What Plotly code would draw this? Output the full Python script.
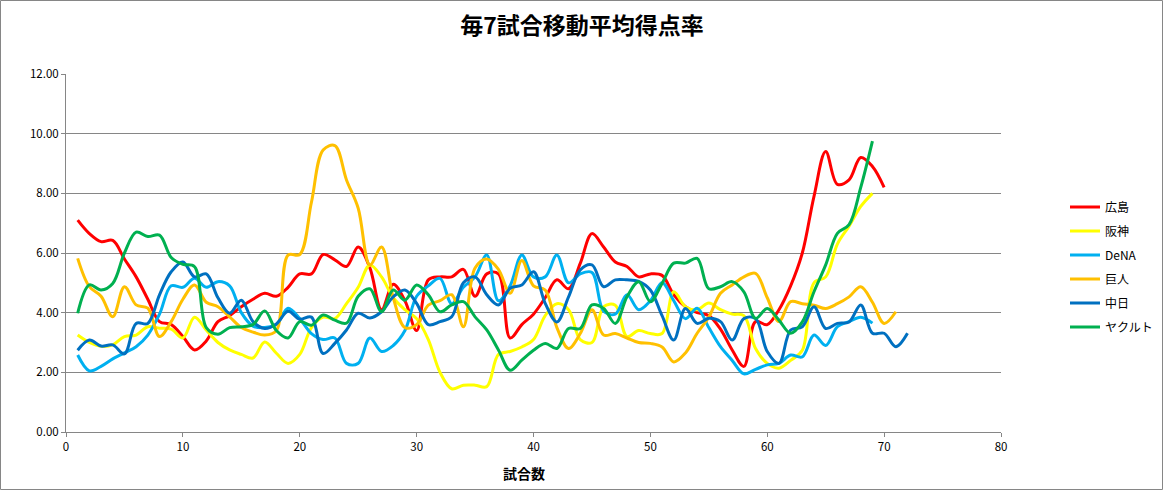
import plotly.graph_objects as go

# ---- data ----
hiroshima = [7.1, 6.65, 6.38, 6.42, 5.8, 5.2, 4.45, 3.7, 3.6, 3.2,
             2.75, 3.05, 3.7, 3.9, 4.2, 4.45, 4.65, 4.55, 4.85, 5.3,
             5.3, 5.95, 5.77, 5.55, 6.2, 5.5, 4.1, 4.95, 4.4, 3.4,
             5.1, 5.2, 5.2, 5.45, 4.55, 5.3, 5.3, 3.15, 3.6, 3.95,
             4.5, 5.1, 4.8, 5.65, 6.65, 6.2, 5.7, 5.55, 5.2, 5.3,
             5.25, 4.6, 4.2, 4.0, 3.9, 3.45, 2.75, 2.2, 3.7, 3.6,
             4.1, 4.9, 6.0, 7.9, 9.4, 8.3, 8.45, 9.2, 8.9, 8.2]
hanshin = [3.25, 3.0, 2.87, 2.92, 3.2, 3.25, 3.53, 3.48, 3.45, 3.15,
           3.85, 3.42, 3.0, 2.75, 2.6, 2.48, 3.02, 2.64, 2.3, 2.6,
           3.5, 3.85, 3.8, 4.3, 4.85, 5.6, 5.2, 4.5, 4.1, 3.8,
           3.1, 2.0, 1.45, 1.57, 1.57, 1.52, 2.6, 2.7, 2.85, 3.1,
           3.9, 4.3, 4.1, 3.1, 3.0, 4.2, 4.25, 3.2, 3.4, 3.3,
           3.3, 4.7, 4.2, 4.1, 4.32, 4.1, 3.95, 3.9, 2.8, 2.3,
           2.14, 2.4, 2.74, 5.0, 5.2, 6.3, 6.9, 7.56, 8.0]
dena = [2.58, 2.05, 2.2, 2.45, 2.65, 2.86, 3.25, 3.95, 4.9, 4.85,
        5.15, 4.85, 5.04, 4.9, 4.0, 3.55, 3.5, 3.6, 4.15, 3.8,
        3.3, 3.1, 3.15, 2.3, 2.3, 3.15, 2.7, 2.9, 3.4, 4.55,
        4.9, 5.15, 4.3, 4.85, 5.2, 5.93, 4.4, 4.9, 5.93, 5.2,
        5.2, 5.93, 5.0, 5.3, 5.35, 4.05, 3.95, 4.6, 4.1, 4.4,
        5.0, 4.4, 3.8, 4.15, 3.5, 2.86, 2.4, 1.95, 2.1, 2.25,
        2.3, 2.58, 2.52, 3.25, 2.9, 3.53, 3.7, 3.85, 3.65]
kyojin = [5.82, 4.87, 4.55, 3.86, 4.87, 4.26, 4.15, 3.2, 3.7, 4.45,
          4.93, 4.35, 4.2, 3.86, 3.5, 3.35, 3.25, 3.4, 5.93, 5.95,
          7.7, 9.45, 9.6, 8.45, 7.5, 5.6, 6.2, 4.5, 3.5, 3.6,
          4.25, 4.4, 4.6, 3.53, 5.5, 5.8, 5.45, 4.65, 5.75, 4.9,
          4.76, 3.5, 2.8, 3.3, 4.1, 3.25, 3.3, 3.15, 3.0, 2.97,
          2.85, 2.35, 2.65, 3.31, 3.85, 4.65, 4.93, 5.2, 5.32, 4.5,
          3.7, 4.37, 4.3, 4.25, 4.14, 4.3, 4.53, 4.87, 4.35, 3.64,
          4.03]
chunichi = [2.74, 3.08, 2.88, 2.92, 2.62, 3.64, 3.64, 4.6, 5.37, 5.7,
            5.2, 5.3, 4.5, 3.98, 4.42, 3.7, 3.47, 3.62, 4.05, 3.78,
            3.85, 2.63, 2.97, 3.42, 3.98, 3.82, 4.03, 4.53, 4.76, 4.31,
            3.6, 3.7, 3.86, 5.0, 5.2, 4.6, 4.26, 4.82, 4.93, 5.37,
            4.31, 3.69, 4.53, 5.43, 5.6, 4.87, 5.1, 5.1, 5.05, 4.76,
            3.9, 3.08, 4.14, 3.64, 3.81, 3.7, 3.08, 3.8, 3.8, 2.7,
            2.3, 3.42, 3.53, 4.2, 3.47, 3.64, 3.69, 4.26, 3.31, 3.31,
            2.86, 3.31]
yakult = [3.98, 4.93, 4.76, 4.98, 6.0, 6.7, 6.55, 6.6, 5.85, 5.62,
          5.54, 3.5, 3.28, 3.5, 3.53, 3.6, 4.06, 3.4, 3.15, 3.7,
          3.58, 3.92, 3.75, 3.65, 4.55, 4.8, 4.03, 4.76, 4.42, 4.93,
          4.6, 4.03, 4.26, 4.37, 3.86, 3.42, 2.75, 2.07, 2.41, 2.74,
          2.97, 2.8, 3.47, 3.47, 4.26, 4.14, 3.64, 4.53, 5.04, 4.37,
          4.98, 5.66, 5.66, 5.82, 4.8, 4.87, 5.04, 4.7, 3.81, 4.14,
          3.75, 3.31, 3.69, 4.7, 5.6, 6.66, 6.95, 8.2, 9.75]

team_names = ["広島", "阪神", "DeNA", "巨人", "中日", "ヤクルト"]
team_values = [hiroshima, hanshin, dena, kyojin, chunichi, yakult]
team_colors = ["#FF0000", "#FFFF00", "#00B0F0", "#FFC000", "#0070C0", "#00B050"]

title_text = "毎7試合移動平均得点率"
x_title = "試合数"

FONT = "Noto Sans CJK JP, Noto Sans, sans-serif"

fig = go.Figure()
for name, vals, col in zip(team_names, team_values, team_colors):
    fig.add_trace(go.Scatter(
        x=list(range(1, len(vals) + 1)), y=vals, name=name, mode="lines",
        legendgroup=name,
        line=dict(color=col, width=3, shape="spline", smoothing=1.0),
    ))

W, H = 1164, 491
ml, mr, mt, mb = 66, 163, 74, 59
pw, ph = W - ml - mr, H - mt - mb

fig.update_layout(
    width=W, height=H,
    margin=dict(l=ml, r=mr, t=mt, b=mb, autoexpand=False),
    paper_bgcolor="white", plot_bgcolor="white",
    font=dict(family=FONT, size=11, color="#000000"),
    title=dict(text="<b>" + title_text + "</b>", x=0.5, xref="container", xanchor="center",
               y=1 - 26 / H, yref="container", yanchor="middle",
               font=dict(family=FONT, size=23, color="#000000")),
    xaxis=dict(range=[0, 80], dtick=10, tick0=0, showgrid=False, zeroline=False,
               showline=True, linecolor="#868686", linewidth=1,
               ticks="outside", ticklen=4, tickcolor="#868686",
               tickfont=dict(size=11.5, color="#000000")),
    yaxis=dict(range=[0, 12], dtick=2, tick0=0, tickformat=".2f",
               showgrid=True, gridcolor="#868686", gridwidth=1, zeroline=False,
               showline=True, linecolor="#868686", linewidth=1,
               ticks="outside", ticklen=4, tickcolor="#868686",
               tickfont=dict(size=11.5, color="#000000")),
    legend=dict(x=(1065 - ml) / pw, xanchor="left", y=(H - mb - 267) / ph, yanchor="middle",
                font=dict(family=FONT, size=12, color="#000000"),
                tracegroupgap=5, itemwidth=30, bgcolor="rgba(0,0,0,0)"),
    showlegend=True,
    annotations=[dict(text="<b>" + x_title + "</b>", xref="paper", yref="paper",
                      x=(524 - ml) / pw, y=(H - mb - 473) / ph,
                      xanchor="center", yanchor="middle", showarrow=False,
                      font=dict(family=FONT, size=14, color="#000000"))],
    shapes=[dict(type="rect", xref="paper", yref="paper",
                 x0=(0.5 - ml) / pw, x1=(W - 1.5 - ml) / pw,
                 y0=(H - mb - (H - 1.5)) / ph, y1=(H - mb - 0.5) / ph,
                 line=dict(color="#868686", width=1), fillcolor="rgba(0,0,0,0)",
                 layer="above")],
)

fig.write_html("out.html", config={"displayModeBar": False},
               post_script="document.body.style.margin='0';document.body.style.padding='0';")
